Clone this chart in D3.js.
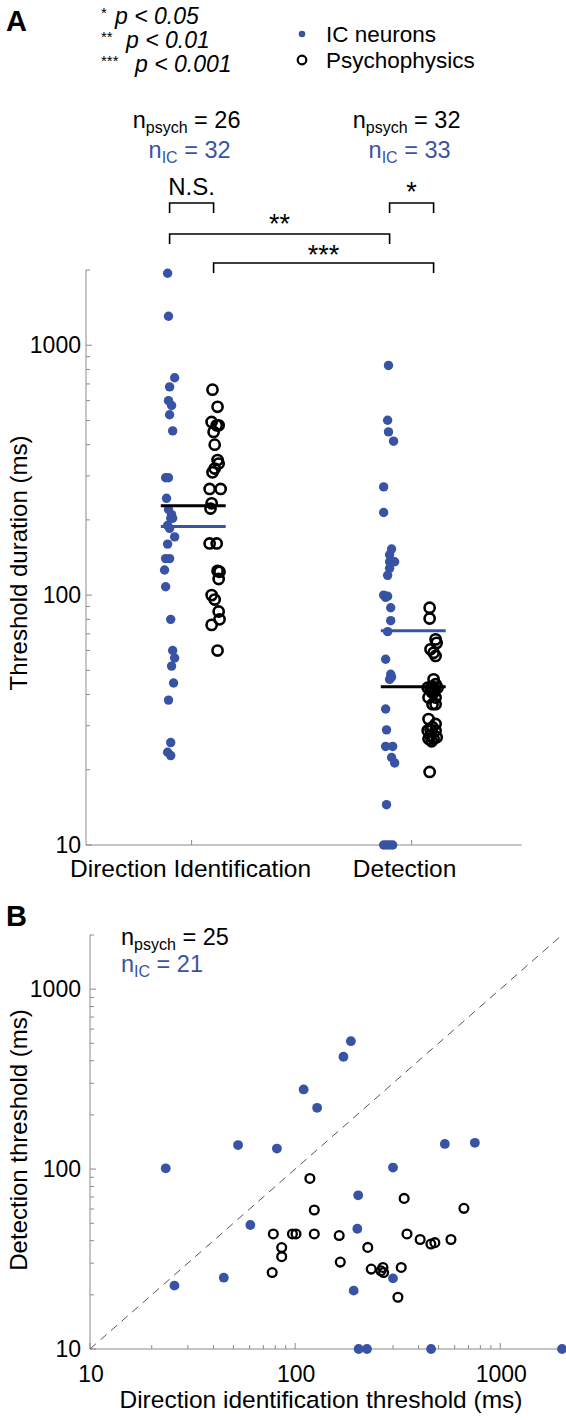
<!DOCTYPE html>
<html>
<head>
<meta charset="utf-8">
<script src="https://cdn.jsdelivr.net/npm/d3@7"></script>
<style>
  html, body { margin: 0; padding: 0; background: #fff; }
  svg { display: block; font-family: "Liberation Sans", Arial, Helvetica, sans-serif; }
</style>
</head>
<body>
<svg id="chart" width="566" height="1420"></svg>
<script>
// ---------------- DATA ----------------
const categories = ["Direction Identification", "Detection"];
const yTickValuesA = [10, 100, 1000];
const tickValuesB = [10, 100, 1000];

// Panel A: thresholds (ms)
const icDirValues = [1941, 1306, 741, 681, 600, 574, 527, 454, 295, 295, 244, 220, 203, 203, 190, 185, 171, 160, 140, 140, 126, 108, 80, 60, 56, 52, 44.5, 38, 25.7, 23.5, 22.8, 210];
const icDirJitter = [-0.009, -0.005, 0.023, 0, -0.005, 0.009, 0, 0.014, -0.018, -0.005, -0.014, -0.005, 0.005, 0.014, -0.009, 0, 0.023, -0.009, -0.018, 0, -0.023, -0.018, 0.005, 0.014, 0.023, 0.009, 0.018, -0.005, 0.005, -0.009, 0.005, 0.009];

const psyDirValues = [664, 567, 493, 478, 478, 450, 400, 347, 336, 321, 310, 266, 266, 233, 222, 161, 161, 125, 124, 116, 100, 96, 86, 80, 76, 60];
const psyDirJitter = [-0.005, 0.018, -0.009, 0.014, 0.023, 0, 0.005, 0.018, 0.023, 0.005, -0.005, -0.018, 0.032, -0.009, -0.014, -0.018, 0.014, 0.018, 0.027, 0.023, -0.009, 0.005, 0.023, 0.027, -0.009, 0.018];

const icDetValues = [830, 501, 450, 413, 271, 214, 153, 145, 136, 136, 128, 120, 100, 99, 89, 79, 71.4, 55.4, 48.2, 47, 35, 28.9, 24.8, 24.8, 22.4, 21.3, 14.5, 10, 10, 10, 10, 98, 46];
const icDetJitter = [-0.005, -0.009, -0.005, 0.018, -0.027, -0.027, 0.009, 0, 0, 0.023, 0, -0.009, -0.027, -0.009, 0.005, 0.005, -0.009, -0.018, 0.005, 0.009, -0.018, -0.014, -0.018, 0.014, 0.009, 0.023, -0.014, -0.027, -0.014, 0, 0.014, -0.018, 0];

const psyDetValues = [89, 80.6, 66.5, 64.4, 60.7, 58.8, 57.1, 46, 44, 42.6, 42.6, 42.2, 40.7, 38.9, 38.9, 36.6, 36.6, 31.9, 30.5, 29.6, 28.7, 28.7, 27.4, 26.6, 26.6, 19.6, 43, 42, 41, 29, 27, 26];
const psyDetJitter = [-0.018, -0.018, 0.009, 0.014, -0.014, 0, 0.009, 0, 0.009, 0.018, -0.027, -0.014, 0, -0.023, 0.009, -0.005, 0.009, -0.023, 0.009, -0.005, -0.027, 0.009, -0.014, 0, -0.023, -0.018, -0.005, 0.005, -0.009, -0.014, 0.014, -0.009];

// group central values drawn as horizontal lines
const meanIC = [188, 72];
const meanPsych = [228, 43];

const nPsychA = [26, 32];
const nICA = [32, 33];

// Panel B: direction identification threshold (x) vs detection threshold (y)
const icBX = [110, 128, 52.7, 81.5, 23.4, 60.5, 187, 172, 537, 752, 300, 203, 201, 25.8, 44.9, 193, 300, 204, 224, 460, 2000];
const icBY = [277, 219, 136, 130, 101, 48.9, 514, 421, 138, 140, 102, 71.5, 46.6, 22.5, 24.9, 21.1, 24.7, 10, 10, 10, 10];

const psyBX = [118, 124, 78.3, 97, 101, 124, 86, 86, 164, 226, 340, 665, 351, 407, 459, 480, 575, 77.3, 166, 235, 268, 270, 329, 317, 262];
const psyBY = [88.7, 59.2, 43.6, 43.6, 43.6, 43.6, 36.6, 32.6, 42.7, 36.7, 68.7, 60.5, 43.6, 40.6, 38.3, 39, 40.6, 26.6, 30.4, 27.8, 28.4, 26.6, 28.4, 19.4, 27.2];

const nPsychB = 25, nICB = 21;

// ---------------- STYLE ----------------
const BLUE = "#3953a4";
const AXIS = "#8a8a8a";
const svg = d3.select("#chart");

function minorTicks(lo, hi) {
  const out = [];
  for (let d = lo; d < hi; d *= 10) for (let k = 2; k <= 9; k++) if (d * k <= hi) out.push(d * k);
  return out;
}

function nLabel(x, y, sub, val, color, anchor) {
  const t = svg.append("text").attr("x", x).attr("y", y).attr("font-size", 23.5)
    .attr("fill", color).attr("text-anchor", anchor);
  t.append("tspan").text("n");
  t.append("tspan").attr("font-size", 16).attr("dy", 5).text(sub);
  t.append("tspan").attr("dy", -5).text(" = " + val);
}

// ---------------- PANEL A ----------------
const xA = d3.scaleLinear().domain([0.52, 2.5]).range([86, 521.6]);
const yA = d3.scaleLog().domain([10, 2000]).range([845, 270]);

svg.append("text").attr("x", 6).attr("y", 31).attr("font-size", 29).attr("font-weight", "bold").text("A");

// significance legend
const sig = [["*", "p < 0.05", 24, 115], ["**", "p < 0.01", 48, 126], ["***", "p < 0.001", 72, 135]];
sig.forEach(s => {
  svg.append("text").attr("x", 101).attr("y", s[2] - 6).attr("font-size", 15).text(s[0]);
  svg.append("text").attr("x", s[3]).attr("y", s[2]).attr("font-size", 23).attr("font-style", "italic").text(s[1]);
});

// series legend
svg.append("circle").attr("cx", 302).attr("cy", 34).attr("r", 3.3).attr("fill", BLUE);
svg.append("circle").attr("cx", 302).attr("cy", 60).attr("r", 4.3).attr("fill", "none").attr("stroke", "#000").attr("stroke-width", 2.2);
svg.append("text").attr("x", 326).attr("y", 42).attr("font-size", 22.5).text("IC neurons");
svg.append("text").attr("x", 326).attr("y", 68).attr("font-size", 22.5).text("Psychophysics");

// n labels
[1, 2].forEach((c, i) => {
  nLabel(xA(c) - 5, 128, "psych", nPsychA[i], "#000", "middle");
  nLabel(xA(c) - 2, 158, "IC", nICA[i], BLUE, "middle");
});

// brackets
function bracket(x1, x2, y, label, ly, fs) {
  svg.append("path")
    .attr("d", `M${x1},${y + 10}V${y}H${x2}V${y + 10}`)
    .attr("fill", "none").attr("stroke", "#000").attr("stroke-width", 1.6);
  svg.append("text").attr("x", (x1 + x2) / 2).attr("y", ly).attr("text-anchor", "middle").attr("font-size", fs).text(label);
}
bracket(xA(0.9), xA(1.1), 203, "N.S.", 195, 24);
bracket(xA(1.9), xA(2.1), 203, "*", 201, 27);
bracket(xA(0.9), xA(1.9), 234, "**", 233, 27);
bracket(xA(1.1), xA(2.1), 263, "***", 264, 27);

// axes A
const gA = svg.append("g");
gA.append("line").attr("x1", 86).attr("x2", 86).attr("y1", yA(2000)).attr("y2", 845).attr("stroke", AXIS);
gA.append("line").attr("x1", 86).attr("x2", 521.6).attr("y1", 845).attr("y2", 845).attr("stroke", AXIS);
gA.selectAll(".mjA").data(yTickValuesA).join("line")
  .attr("x1", 86).attr("x2", 92).attr("y1", d => yA(d)).attr("y2", d => yA(d)).attr("stroke", AXIS);
gA.selectAll(".mnA").data(minorTicks(10, 2000)).join("line")
  .attr("x1", 86).attr("x2", 90).attr("y1", d => yA(d)).attr("y2", d => yA(d)).attr("stroke", AXIS);
gA.selectAll(".ylA").data(yTickValuesA).join("text")
  .attr("x", 81).attr("y", d => yA(d) + 8).attr("text-anchor", "end").attr("font-size", 23).text(d => d);
gA.selectAll(".xtA").data([1, 2]).join("line")
  .attr("x1", d => xA(d)).attr("x2", d => xA(d)).attr("y1", 845).attr("y2", 840).attr("stroke", AXIS);
gA.selectAll(".xlA").data(categories).join("text")
  .attr("x", (d, i) => xA(i + 1) - (i === 0 ? 1 : 7)).attr("y", 877).attr("text-anchor", "middle").attr("font-size", 24.5).text(d => d);
svg.append("text").attr("transform", "translate(27,563) rotate(-90)").attr("text-anchor", "middle").attr("font-size", 24).text("Threshold duration (ms)");

// points A
function dots(vals, jit, center, filled, r) {
  const g = svg.append("g");
  g.selectAll("circle").data(vals).join("circle")
    .attr("cx", (d, i) => xA(center + jit[i]))
    .attr("cy", d => yA(d))
    .attr("r", r)
    .attr("fill", filled ? BLUE : "none")
    .attr("stroke", filled ? "none" : "#000")
    .attr("stroke-width", filled ? 0 : 2.6);
}
dots(icDirValues, icDirJitter, 0.9, true, 4.7);
dots(psyDirValues, psyDirJitter, 1.1, false, 5.1);
dots(icDetValues, icDetJitter, 1.9, true, 4.7);
dots(psyDetValues, psyDetJitter, 2.1, false, 5.1);

// central-value lines
[1, 2].forEach((c, i) => {
  svg.append("line").attr("x1", xA(c - 0.14)).attr("x2", xA(c + 0.155))
    .attr("y1", yA(meanPsych[i])).attr("y2", yA(meanPsych[i])).attr("stroke", "#000").attr("stroke-width", 3);
  svg.append("line").attr("x1", xA(c - 0.14)).attr("x2", xA(c + 0.155))
    .attr("y1", yA(meanIC[i])).attr("y2", yA(meanIC[i])).attr("stroke", BLUE).attr("stroke-width", 3);
});

// ---------------- PANEL B ----------------
const xB = d3.scaleLog().domain([10, 2000]).range([90, 562]);
const yB = d3.scaleLog().domain([10, 2000]).range([1349, 935]);

svg.append("text").attr("x", 6).attr("y", 926).attr("font-size", 29).attr("font-weight", "bold").text("B");
nLabel(121, 945, "psych", nPsychB, "#000", "start");
nLabel(121, 972, "IC", nICB, BLUE, "start");

const gB = svg.append("g");
gB.append("line").attr("x1", 90).attr("x2", 90).attr("y1", yB(2000)).attr("y2", yB(10)).attr("stroke", AXIS);
gB.append("line").attr("x1", 90).attr("x2", xB(2000)).attr("y1", yB(10)).attr("y2", yB(10)).attr("stroke", AXIS);
gB.selectAll(".myB").data(tickValuesB).join("line")
  .attr("x1", 90).attr("x2", 96).attr("y1", d => yB(d)).attr("y2", d => yB(d)).attr("stroke", AXIS);
gB.selectAll(".nyB").data(minorTicks(10, 2000)).join("line")
  .attr("x1", 90).attr("x2", 94).attr("y1", d => yB(d)).attr("y2", d => yB(d)).attr("stroke", AXIS);
gB.selectAll(".mxB").data(tickValuesB).join("line")
  .attr("x1", d => xB(d)).attr("x2", d => xB(d)).attr("y1", yB(10)).attr("y2", yB(10) - 6).attr("stroke", AXIS);
gB.selectAll(".nxB").data(minorTicks(10, 2000)).join("line")
  .attr("x1", d => xB(d)).attr("x2", d => xB(d)).attr("y1", yB(10)).attr("y2", yB(10) - 4).attr("stroke", AXIS);
gB.selectAll(".ylB").data(tickValuesB).join("text")
  .attr("x", 81).attr("y", d => yB(d) + 8).attr("text-anchor", "end").attr("font-size", 23).text(d => d);
gB.selectAll(".xlB").data(tickValuesB).join("text")
  .attr("x", d => xB(d) + 1).attr("y", 1382).attr("text-anchor", "middle").attr("font-size", 23).text(d => d);
svg.append("text").attr("x", 321).attr("y", 1408).attr("text-anchor", "middle").attr("font-size", 24.5).text("Direction identification threshold (ms)");
svg.append("text").attr("transform", "translate(27,1140) rotate(-90)").attr("text-anchor", "middle").attr("font-size", 24).text("Detection threshold (ms)");

// unity line
svg.append("line").attr("x1", xB(10)).attr("y1", yB(10)).attr("x2", xB(2000)).attr("y2", yB(2000))
  .attr("stroke", "#555").attr("stroke-width", 1).attr("stroke-dasharray", "8,6");

svg.append("g").selectAll("circle").data(psyBX).join("circle")
  .attr("cx", d => xB(d)).attr("cy", (d, i) => yB(psyBY[i])).attr("r", 4.4)
  .attr("fill", "none").attr("stroke", "#000").attr("stroke-width", 2.3);
svg.append("g").selectAll("circle").data(icBX).join("circle")
  .attr("cx", d => xB(d)).attr("cy", (d, i) => yB(icBY[i])).attr("r", 4.9)
  .attr("fill", BLUE);
</script>
</body>
</html>
